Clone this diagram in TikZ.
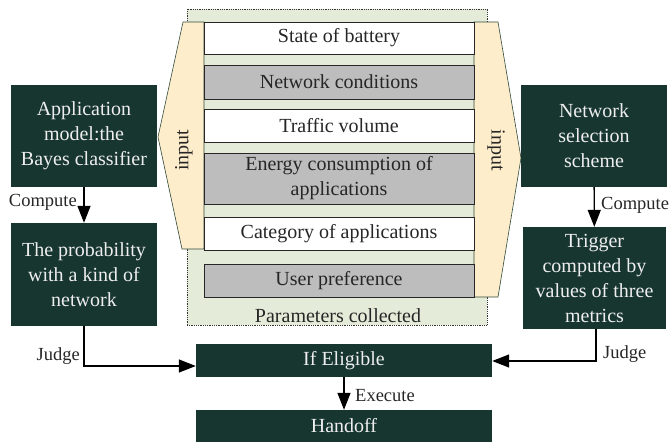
\documentclass[tikz,border=0pt]{standalone}
\usepackage{fontspec}
\setmainfont{Liberation Serif}
\usetikzlibrary{arrows.meta,calc}

\definecolor{darkbox}{HTML}{17362F}
\definecolor{boxtext}{HTML}{EEEEEE}
\definecolor{paramgray}{HTML}{BDBDBD}
\definecolor{panelgreen}{HTML}{E4EBD8}
\definecolor{inputyellow}{HTML}{FEEDCB}
\definecolor{edgegreen}{HTML}{2F4A3A}

\tikzset{
  txt/.style={font=\fontsize{20pt}{25pt}\selectfont, text=black!85},
  lbl/.style={font=\fontsize{18.5pt}{23pt}\selectfont, text=black!85, inner sep=0pt},
  darkstep/.style={fill=darkbox, draw=none, text=boxtext, align=center,
    inner sep=0pt, font=\fontsize{20pt}{25pt}\selectfont},
  paramrow/.style={draw=black!85, line width=0.9pt, inner sep=0pt,
    minimum width=270pt, align=center, font=\fontsize{20pt}{25pt}\selectfont, text=black!85},
  whiterow/.style={paramrow, fill=white},
  grayrow/.style={paramrow, fill=paramgray},
  inputshape/.style={fill=inputyellow, draw=edgegreen, line width=0.6pt},
  flow/.style={line width=1.4pt, -{Triangle[width=13pt,length=17pt]}},
}

\begin{document}
\begin{tikzpicture}[x=1pt, y=-1pt]
  \useasboundingbox (0,0) rectangle (671,445);

  % panel holding the collected parameters
  \node[fill=panelgreen, draw=black!80, densely dotted, line width=0.8pt,
        minimum width=300pt, minimum height=316pt, inner sep=0pt] (panel) at (337,167) {};
  \node[txt] (pc) at (338,316) {Parameters collected};

  % input wedges on both sides of the panel
  \draw[inputshape] (183,22) -- (204,22) -- (204,249) -- (182,249) -- (158,137) -- cycle;
  \draw[inputshape] (474,22) -- (498,22) -- (521,158) -- (498,297) -- (474,297) -- cycle;
  \node[txt, rotate=90] (inl) at (184,150) {input};
  \node[txt, rotate=-90] (inr) at (496,150) {input};

  % parameter rows
  \node[whiterow, minimum height=32pt] (r1) at (339,38) {State of battery};
  \node[grayrow,  minimum height=34pt] (r2) at (339,82) {Network conditions};
  \node[whiterow, minimum height=33pt] (r3) at (339,125.5) {Traffic volume};
  \node[grayrow,  minimum height=51pt] (r4) at (339,178.5) {Energy consumption of\\applications};
  \node[whiterow, minimum height=33pt] (r5) at (339,233.5) {Category of applications};
  \node[grayrow,  minimum height=33pt] (r6) at (339,280.5) {User preference};

  % left column
  \node[darkstep, minimum width=146pt, minimum height=102pt] (app) at (84,136)
    {Application\\model:the\\Bayes classifier};
  \node[darkstep, minimum width=146pt, minimum height=103pt] (prob) at (84,274.5)
    {The probability\\with a kind of\\network};

  % right column
  \node[darkstep, minimum width=146pt, minimum height=102pt] (nss) at (594,136)
    {Network\\selection\\scheme};
  \node[darkstep, minimum width=143pt, minimum height=102pt] (trig) at (594.5,278)
    {Trigger\\computed by\\values of three\\metrics};

  % decision and action
  \node[darkstep, minimum width=296pt, minimum height=33pt] (elig) at (344,360.5) {If Eligible};
  \node[darkstep, minimum width=296pt, minimum height=32pt] (hand) at (344,426) {Handoff};

  % connectors
  \draw[flow] (app) -- (prob);
  \node[lbl, anchor=east] (cl) at (77,202) {Compute};

  \draw[flow] (nss) -- (trig);
  \node[lbl, anchor=west] (cr) at (601,205) {Compute};

  \coordinate (jl) at (84,366);
  \draw[flow] (prob.south) -- (jl) -- (jl -| elig.west);
  \node[lbl, anchor=east] (jdl) at (80,356) {Judge};

  \coordinate (jr) at (596,361);
  \draw[flow] (trig.south -| jr) -- (jr) -- (jr -| elig.east);
  \node[lbl, anchor=west] (jdr) at (603,354) {Judge};

  \draw[flow] (elig) -- (hand);
  \node[lbl, anchor=west] (ex) at (355,396) {Execute};
\end{tikzpicture}
\end{document}
